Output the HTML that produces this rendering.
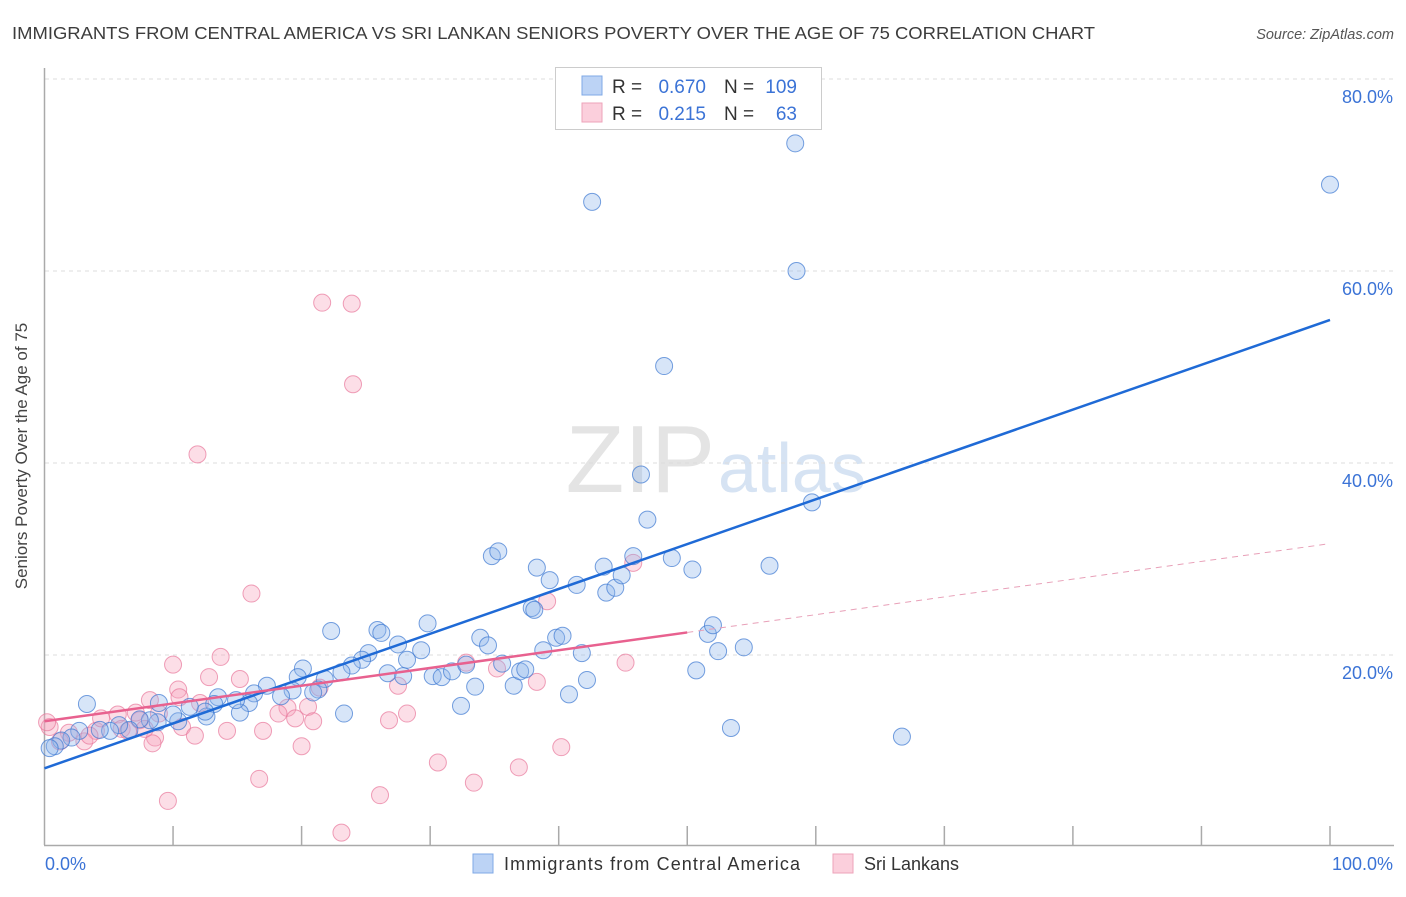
<!DOCTYPE html>
<html><head><meta charset="utf-8"><style>
body{margin:0;background:#fff;font-family:"Liberation Sans",sans-serif}
svg text{font-family:"Liberation Sans",sans-serif}
</style></head><body>
<svg width="1406" height="892">
<text x="12" y="39" font-size="17.5" fill="#3c3c3c" textLength="1083" lengthAdjust="spacingAndGlyphs">IMMIGRANTS FROM CENTRAL AMERICA VS SRI LANKAN SENIORS POVERTY OVER THE AGE OF 75 CORRELATION CHART</text>
<text x="1394" y="39" font-size="14.5" fill="#555" font-style="italic" text-anchor="end">Source: ZipAtlas.com</text>
<text x="715" y="492" font-size="96" fill="#e4e4e4" text-anchor="end" font-family="Liberation Serif">ZIP</text>
<text x="718" y="492" font-size="70" fill="#d6e3f3">atlas</text>
<g id="grid"></g>
<line x1="44.5" y1="68" x2="44.5" y2="845" stroke="#aaa" stroke-width="1.5"/>
<line x1="44" y1="845.5" x2="1394" y2="845.5" stroke="#aaa" stroke-width="1.5"/>
<g id="xticks"></g>
<text x="27" y="456" font-size="17" fill="#444" text-anchor="middle" transform="rotate(-90 27 456)">Seniors Poverty Over the Age of 75</text>
<text x="45" y="870" font-size="18" fill="#3b73d6">0.0%</text>
<text x="1393" y="870" font-size="18" fill="#3b73d6" text-anchor="end">100.0%</text>
<g id="pts"></g>
<g id="lines"></g>
<g>
<rect x="555.5" y="67.5" width="266" height="62" fill="#fff" stroke="#ccc"/>
<rect x="582" y="76" width="20" height="19" fill="#bcd3f5" stroke="#7fa8e6"/>
<rect x="582" y="103" width="20" height="19" fill="#fbcfdc" stroke="#eea3ba"/>
<text x="612" y="93" font-size="19" fill="#333">R =</text>
<text x="706" y="93" font-size="19" fill="#3b73d6" text-anchor="end">0.670</text>
<text x="724" y="93" font-size="19" fill="#333">N =</text>
<text x="797" y="93" font-size="19" fill="#3b73d6" text-anchor="end">109</text>
<text x="612" y="120" font-size="19" fill="#333">R =</text>
<text x="706" y="120" font-size="19" fill="#3b73d6" text-anchor="end">0.215</text>
<text x="724" y="120" font-size="19" fill="#333">N =</text>
<text x="797" y="120" font-size="19" fill="#3b73d6" text-anchor="end">63</text>
</g>
<g>
<rect x="473" y="854" width="20" height="19" fill="#bcd3f5" stroke="#7fa8e6"/>
<text x="504" y="870" font-size="18" fill="#333" textLength="296">Immigrants from Central America</text>
<rect x="833" y="854" width="20" height="19" fill="#fbcfdc" stroke="#eea3ba"/>
<text x="864" y="870" font-size="18" fill="#333">Sri Lankans</text>
</g>
</svg>
<script>
const yTicks=[20,40,60,80];
const yTickLabels=["20.0%","40.0%","60.0%","80.0%"];
const xTicks=[10,20,30,40,50,60,70,80,90,100];
const blueX=[58.4,42.6,100,58.5,48.2,46.4,59.7,46.9,34.8,35.3,38.3,39.3,41.4,43.5,43.7,44.4,44.9,45.8,48.8,50.4,56.4,37.9,22.3,25.9,26.2,29.8,33.9,34.5,39.8,40.3,38.8,41.8,51.6,52.0,52.4,54.4,50.7,42.2,40.8,36.5,35.6,37.0,37.4,33.5,32.4,30.2,30.9,31.7,32.8,28.2,27.5,29.3,26.7,27.9,25.2,24.7,23.9,23.1,21.8,21.3,20.1,19.7,20.9,19.3,18.4,17.3,16.3,15.9,15.2,14.9,13.5,13.2,12.6,12.5,11.3,10.4,10.0,8.9,8.8,8.2,7.4,6.6,5.8,5.1,4.3,3.3,2.7,2.1,1.3,0.8,0.4,23.3,53.4,66.7,38.1];
const blueY=[73.3,67.2,69.0,60.0,50.1,38.8,35.9,34.1,30.3,30.8,29.1,27.8,27.3,29.2,26.5,27.0,28.3,30.3,30.1,28.9,29.3,24.9,22.5,22.6,22.3,23.3,21.8,21.0,21.8,22.0,20.5,20.2,22.2,23.1,20.4,20.8,18.4,17.4,15.9,16.8,19.1,18.3,18.5,16.7,14.7,17.8,17.7,18.3,19.0,19.5,21.1,20.5,18.1,17.8,20.2,19.5,18.9,18.2,17.5,16.4,18.6,17.7,16.1,16.3,15.7,16.8,16.0,15.0,14.0,15.3,15.6,14.9,13.6,14.1,14.6,13.1,13.8,15.0,13.0,13.2,13.3,12.2,12.7,12.1,12.2,14.9,12.1,11.4,11.1,10.5,10.3,13.9,12.4,11.5,24.7];
const pinkX=[21.6,23.9,24.0,11.9,16.1,39.1,45.8,45.2,38.3,13.7,10.0,12.8,15.2,10.4,10.5,27.5,21.4,20.5,18.9,19.5,20.9,18.2,26.8,28.2,17.0,14.2,10.7,11.7,8.6,8.4,7.4,8.2,7.1,5.7,6.0,4.0,3.1,1.9,1.2,0.4,0.2,20.0,40.2,30.6,36.9,33.4,16.7,9.6,26.1,23.1,35.2,32.8,4.4,3.5,6.5,7.8,8.9,12.1];
const pinkY=[56.7,56.6,48.2,40.9,26.4,25.6,29.6,19.2,17.2,19.8,19.0,17.7,17.5,16.4,15.6,16.8,16.6,14.6,14.5,13.4,13.1,13.9,13.2,13.9,12.1,12.1,12.5,11.6,11.4,10.8,13.2,15.3,14.0,13.8,12.3,12.1,11.0,11.9,11.0,12.5,13.0,10.5,10.4,8.8,8.3,6.7,7.1,4.8,5.4,1.5,18.6,19.2,13.4,11.6,12.1,12.3,13.9,15.0];
const blueFit=[8.2,54.9];
const pinkFit=[13.1,31.6];
const pinkSolidEnd=50;
const NS="http://www.w3.org/2000/svg";
const X=v=>44.5+v*12.855, Y=v=>847-v*9.6;
function mk(t,a,p){const e=document.createElementNS(NS,t);for(const k in a)e.setAttribute(k,a[k]);document.getElementById(p).appendChild(e);return e;}
yTicks.forEach((t,i)=>{
 const l=mk('line',{x1:45,x2:1393,y1:Y(t),y2:Y(t),stroke:'#ddd','stroke-dasharray':'4 4'},'grid');
 
 
 const tx=mk('text',{x:1393,y:Y(t)+24,'font-size':18,fill:'#3b73d6','text-anchor':'end'},'grid');
 tx.textContent=yTickLabels[i];
 
 
});
xTicks.forEach(t=>{
 const l=mk('line',{x1:X(t),x2:X(t),y1:826,y2:845,stroke:'#aaa','stroke-width':1.5},'xticks');
 
 
});
pinkX.forEach((v,i)=>{
 const c=mk('circle',{cx:X(v),cy:Y(pinkY[i]),r:8.5,fill:'rgba(246,160,186,0.35)',stroke:'rgba(232,120,155,0.7)','stroke-width':1},'pts');
 
 
});
blueX.forEach((v,i)=>{
 const c=mk('circle',{cx:X(v),cy:Y(blueY[i]),r:8.5,fill:'rgba(140,180,235,0.35)',stroke:'rgba(60,120,210,0.7)','stroke-width':1},'pts');
 
 
});
const bl=mk('line',{x1:X(0),y1:Y(blueFit[0]),x2:X(100),y2:Y(blueFit[1]),stroke:'#1f6ad6','stroke-width':2.5},'lines');


const pAt=v=>pinkFit[0]+(pinkFit[1]-pinkFit[0])*v/100;
const pl=mk('line',{x1:X(0),y1:Y(pAt(0)),x2:X(pinkSolidEnd),y2:Y(pAt(pinkSolidEnd)),stroke:'#e8618f','stroke-width':2.5},'lines');


const pd=mk('line',{x1:X(pinkSolidEnd),y1:Y(pAt(pinkSolidEnd)),x2:X(100),y2:Y(pAt(100)),stroke:'#e8a0b8','stroke-width':1,'stroke-dasharray':'6 5'},'lines');


</script>
</body></html>
